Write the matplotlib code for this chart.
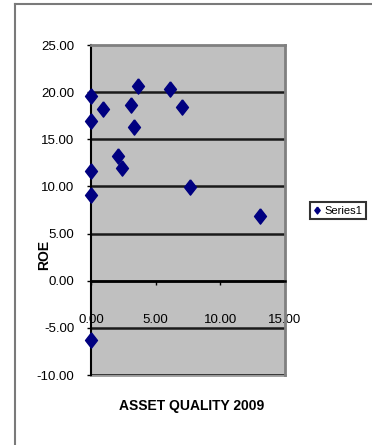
import matplotlib
matplotlib.use("Agg")
import matplotlib.pyplot as plt
from matplotlib.lines import Line2D
from matplotlib.ticker import FormatStrFormatter

plt.rcParams['font.family'] = ['Liberation Sans Narrow', 'Liberation Sans', 'DejaVu Sans']

# Asset quality (x) versus return on equity (y), 2009
asset_quality = [0.0, 0.0, 0.96, 3.06, 3.63, 3.32, 6.09, 7.0, 2.05, 2.41, 0.0, 0.0, 7.67, 13.06, 0.0]
roe = [19.6, 16.9, 18.2, 18.6, 20.65, 16.3, 20.3, 18.4, 13.2, 12.0, 11.6, 9.1, 9.94, 6.87, -6.3]

x_ticks = [0, 5, 10, 15]
y_ticks = [-10, -5, 0, 5, 10, 15, 20, 25]
series_name = "Series1"

W, H = 372, 445
fig = plt.figure(figsize=(W / 100, H / 100), dpi=100)
fig.patch.set_facecolor('white')

ax = fig.add_axes([91 / W, 1 - 375 / H, (285 - 91) / W, (375 - 45) / H])
ax.set_facecolor('#C0C0C0')
ax.set_xlim(0, 15)
ax.set_ylim(-10, 25)

for yv in y_ticks[:-1]:
    ax.axhline(yv, color='#1a1a1a', lw=1.8, zorder=1)

diamond = [(0, 1), (0.78, 0), (0, -1), (-0.78, 0), (0, 1)]
ax.plot(asset_quality, roe, linestyle='none', marker=diamond, markersize=11,
        color='#000080', markeredgecolor='#000080', label=series_name, zorder=3,
        clip_on=False)

ax.spines['left'].set_color('black')
ax.spines['left'].set_linewidth(1.5)
ax.spines['bottom'].set_position(('data', 0))
ax.spines['bottom'].set_color('black')
ax.spines['bottom'].set_linewidth(1.8)
for s in ('top', 'right'):
    ax.spines[s].set_color('#808080')
    ax.spines[s].set_linewidth(2)
ax.add_line(Line2D([0, 1], [0, 0], transform=ax.transAxes, color='#9a9a9a',
                   lw=2, clip_on=False, zorder=0.5))

ax.set_xticks(x_ticks)
ax.set_yticks(y_ticks)
ax.xaxis.set_major_formatter(FormatStrFormatter('%.2f'))
ax.yaxis.set_major_formatter(FormatStrFormatter('%.2f'))
ax.tick_params(axis='x', direction='out', length=3, width=1, pad=21,
               labelsize=9.5, colors='black')
ax.tick_params(axis='y', direction='out', length=3, width=1, pad=9,
               labelsize=9.5, colors='black')

fig.text(44 / W, 1 - 255 / H, "ROE", rotation=90, ha='center', va='center',
         fontsize=10, fontweight='bold')
fig.text(192 / W, 1 - 406 / H, "ASSET QUALITY 2009", ha='center', va='center',
         fontsize=10, fontweight='bold')

leg = ax.legend(loc='center', bbox_to_anchor=(338 / W, 1 - 210.5 / H),
                bbox_transform=fig.transFigure, fontsize=8, frameon=True,
                fancybox=False, handlelength=0.6, handletextpad=0.3,
                borderpad=0.35, markerscale=0.45, borderaxespad=0)
leg.get_frame().set_edgecolor('black')
leg.get_frame().set_linewidth(1.5)

# outer chart frame (top and left edges)
fig.add_artist(Line2D([15 / W, 1], [1 - 4 / H, 1 - 4 / H], transform=fig.transFigure,
                      color='#7a7a7a', lw=1.5))
fig.add_artist(Line2D([15 / W, 15 / W], [0, 1 - 4 / H], transform=fig.transFigure,
                      color='#7a7a7a', lw=1.5))

fig.savefig('out.png', dpi=100)
